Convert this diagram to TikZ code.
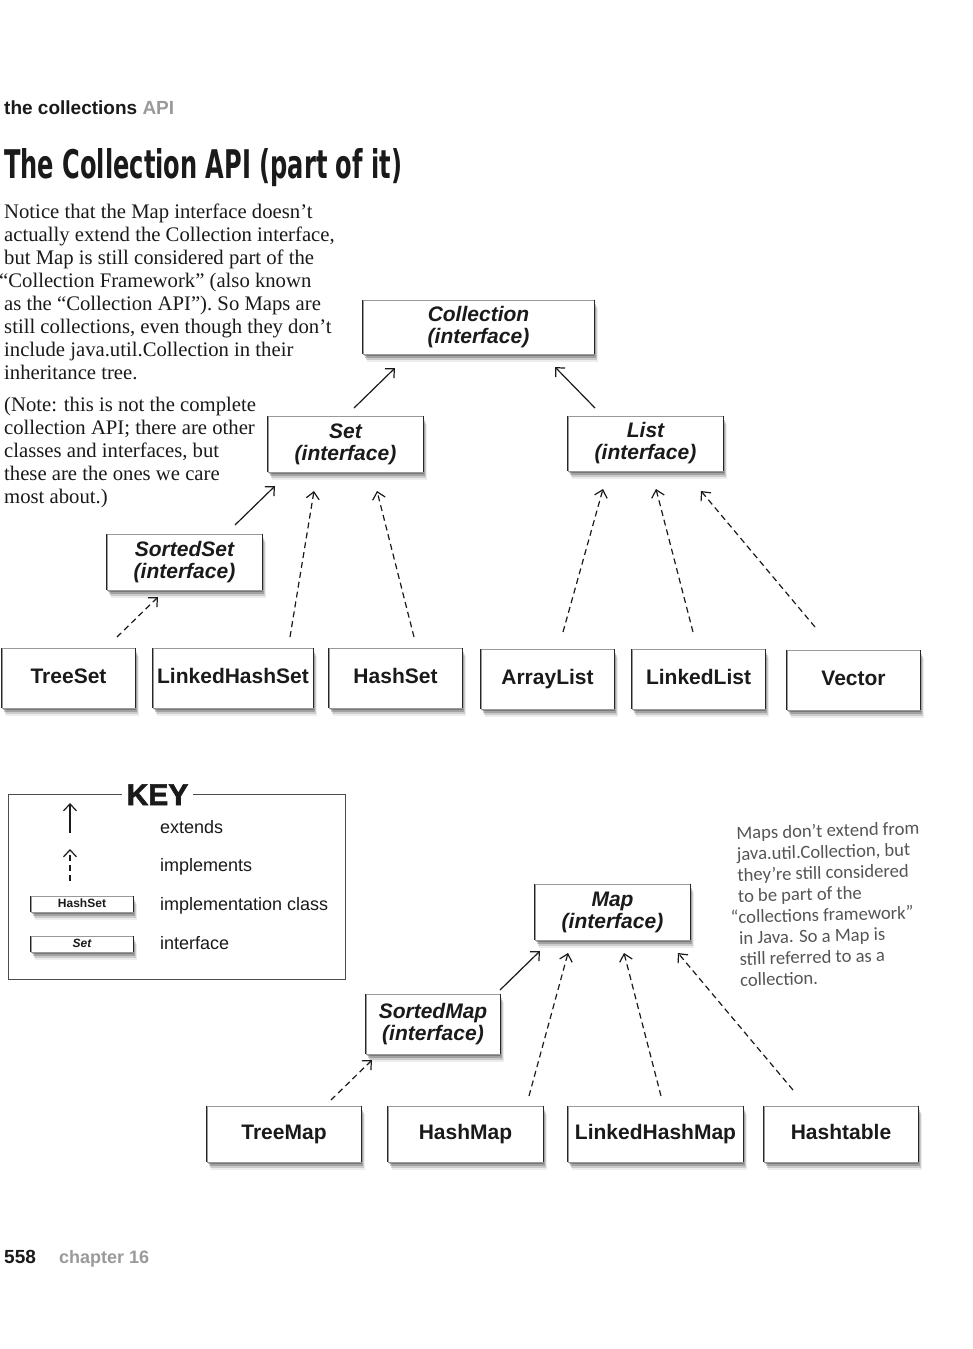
\documentclass[tikz,border=0pt]{standalone}
\usepackage{fontspec}
\setmainfont{Liberation Serif}
\setsansfont{Liberation Sans}
\newfontfamily\handf{Carlito}
\newfontfamily\titlef{DejaVu Sans}
\newfontfamily\keyfont[BoldFeatures={FakeBold=2}]{Liberation Sans}
\usetikzlibrary{arrows.meta,shadows}
\definecolor{pgray}{HTML}{9A9A9A}
\definecolor{ink}{HTML}{1A1A1A}
\definecolor{handgray}{HTML}{555555}
\begin{document}
\begin{tikzpicture}[x=1pt,y=-1pt,
  shd/.style={
    drop shadow={shadow xshift=1pt,shadow yshift=-2pt,opacity=0.25,fill=black},
    drop shadow={shadow xshift=2pt,shadow yshift=-4pt,opacity=0.2,fill=black},
    drop shadow={shadow xshift=3pt,shadow yshift=-6pt,opacity=0.14,fill=black},
    drop shadow={shadow xshift=4pt,shadow yshift=-8pt,opacity=0.07,fill=black}},
  box/.style={draw=black!40, line width=0.5pt, fill=white, inner sep=0pt, align=center,
    text=ink, font=\sffamily\bfseries\fontsize{21}{22}\selectfont, shd},
  cbox/.style={box, text height=15pt, text depth=4.5pt},
  ibox/.style={box, font=\sffamily\bfseries\itshape\fontsize{21}{22}\selectfont},
  sideedge/.style={line width=1.4pt, black!85},
  ext/.style={line width=1.2pt, ink, -{Straight Barb[length=7pt,width=13pt,line width=1.2pt]}},
  imp/.style={ext, dash pattern=on 6pt off 4pt},
  body/.style={anchor=base west, inner sep=0pt, text=ink, font=\rmfamily\fontsize{20.7}{23}\selectfont},
  keylabel/.style={anchor=base west, inner sep=0pt, text=ink, font=\sffamily\fontsize{18}{20}\selectfont}
]
\fill[white] (0,0) rectangle (972,1349);
\useasboundingbox (0,0) rectangle (972,1349);

% header
\node[anchor=base west, inner sep=0pt, font=\sffamily\bfseries\fontsize{19}{19}\selectfont, text=ink] (hdr) at (4,114) {the collections \textcolor{pgray}{API}};
\node[anchor=base west, inner sep=0pt, text=ink] (title) at (4,178)
  {\resizebox{398pt}{30pt}{\titlef\bfseries The Collection API (part of it)}};

% body text
\foreach \t/\xx [count=\i] in {{Notice that the Map interface doesn’t}/4,{actually extend the Collection interface,}/4,{but Map is still considered part of the}/4,{“Collection Framework” (also known}/-1,{as the “Collection API”). So Maps are}/4,{still collections, even though they don’t}/4,{include java.util.Collection in their}/4,{inheritance tree.}/4}
  \node[body] (b\i) at (\xx,{218+(\i-1)*23}) {\t};
\foreach \t [count=\i] in {{(Note: this is not the complete},{collection API; there are other},{classes and interfaces, but},{these are the ones we care},{most about.)}}
  \node[body] (n\i) at (4,{411+(\i-1)*23}) {\t};

% interface boxes
\node[ibox, minimum width=231pt, minimum height=54pt] (coll) at (478.5,327) {Collection\\(interface)};
\node[ibox, minimum width=155pt, minimum height=56pt] (set) at (345.5,444) {Set\\(interface)};
\node[ibox, minimum width=155pt, minimum height=55pt] (list) at (645.5,443.5) {List\\(interface)};
\node[ibox, minimum width=155pt, minimum height=56pt] (sset) at (184.5,562) {SortedSet\\(interface)};
\node[ibox, minimum width=155pt, minimum height=56pt] (map) at (612.5,912) {Map\\(interface)};
\node[ibox, minimum width=134pt, minimum height=60pt] (smap) at (433,1024) {SortedMap\\(interface)};

% class boxes
\node[cbox, minimum width=133pt, minimum height=60pt] (treeset) at (68.5,678) {TreeSet};
\node[cbox, minimum width=160pt, minimum height=60pt] (lhs) at (233,678) {LinkedHashSet};
\node[cbox, minimum width=133pt, minimum height=60pt] (hashset) at (395.5,678) {HashSet};
\node[cbox, minimum width=133pt, minimum height=60pt] (arraylist) at (547.5,679) {ArrayList};
\node[cbox, minimum width=133pt, minimum height=60pt] (linkedlist) at (698.5,679) {LinkedList};
\node[cbox, minimum width=133pt, minimum height=60pt] (vector) at (853.5,680) {Vector};
\node[cbox, minimum width=154pt, minimum height=56pt] (treemap) at (284,1134) {TreeMap};
\node[cbox, minimum width=155pt, minimum height=56pt] (hashmap) at (465.5,1134) {HashMap};
\node[cbox, minimum width=175pt, minimum height=56pt] (lhm) at (655.5,1134) {LinkedHashMap};
\node[cbox, minimum width=154pt, minimum height=56pt] (hashtable) at (841,1134) {Hashtable};

% key
\draw[black!70, line width=0.7pt] (8,794) rectangle (345,979);
\node[fill=white, inner xsep=5pt, inner ysep=2pt, anchor=base, text=ink] (key) at (157.5,805)
  {\keyfont\bfseries\fontsize{30}{30}\selectfont KEY};
\coordinate (ke1) at (70,833); \coordinate (ke2) at (70,803);
\coordinate (ki1) at (70,881); \coordinate (ki2) at (70,849);
\draw[ext] (ke1) -- (ke2);
\draw[imp] (ki1) -- (ki2);
\node[box, minimum width=102pt, minimum height=16pt, text height=9pt, text depth=2.5pt, font=\sffamily\bfseries\fontsize{12}{13}\selectfont] (khs) at (82,904) {HashSet};
\node[box, minimum width=102pt, minimum height=16pt, text height=9pt, text depth=2.5pt, font=\sffamily\bfseries\itshape\fontsize{12}{13}\selectfont] (kset) at (82,944) {Set};
\node[keylabel] (l1) at (160,833) {extends};
\node[keylabel] (l2) at (160,871) {implements};
\node[keylabel] (l3) at (160,910) {implementation class};
\node[keylabel] (l4) at (160,949) {interface};

% side edges of boxes
\foreach \n in {coll,set,list,sset,map,smap,treeset,lhs,hashset,arraylist,linkedlist,vector,treemap,hashmap,lhm,hashtable,khs,kset}
  \draw[sideedge] (\n.north west) -- (\n.south west) (\n.north east) -- (\n.south east);

% connector end points
\coordinate (a1) at (354,408); \coordinate (a2) at (395,368);
\coordinate (b1) at (595,408); \coordinate (b2) at (555,367);
\coordinate (c1) at (235,525); \coordinate (c2) at (275,486);
\coordinate (d1) at (117,637); \coordinate (d2) at (158,597);
\coordinate (e1) at (290,637); \coordinate (e2) at (314,491);
\coordinate (f1) at (414,637); \coordinate (f2) at (377,491);
\coordinate (g1) at (563,632); \coordinate (g2) at (603,489);
\coordinate (h1) at (693,632); \coordinate (h2) at (656,489);
\coordinate (i1) at (815,627); \coordinate (i2) at (701,491);
\coordinate (j1) at (500,990); \coordinate (j2) at (540,951);
\coordinate (k1) at (331,1100); \coordinate (k2) at (372,1060);
\coordinate (m1) at (529,1096); \coordinate (m2) at (568,953);
\coordinate (o1) at (661,1096); \coordinate (o2) at (624,953);
\coordinate (p1) at (793,1090); \coordinate (p2) at (678,953);

\draw[ext] (a1) -- (a2);
\draw[ext] (b1) -- (b2);
\draw[ext] (c1) -- (c2);
\draw[imp] (d1) -- (d2);
\draw[imp] (e1) -- (e2);
\draw[imp] (f1) -- (f2);
\draw[imp] (g1) -- (g2);
\draw[imp] (h1) -- (h2);
\draw[imp] (i1) -- (i2);
\draw[ext] (j1) -- (j2);
\draw[imp] (k1) -- (k2);
\draw[imp] (m1) -- (m2);
\draw[imp] (o1) -- (o2);
\draw[imp] (p1) -- (p2);

% handwritten note
\node[anchor=north west, align=left, rotate=1.5, inner sep=0pt, text=handgray,
  font=\handf\fontsize{18.6}{21}\selectfont] (note) at (736,826)
  {Maps don’t extend from\\java.util.Collection, but\\they’re still considered\\to be part of the\\\llap{“}collections framework”\\in Java. So a Map is\\still referred to as a\\collection.};

% footer
\node[anchor=base west, inner sep=0pt, text=ink, font=\sffamily\bfseries\fontsize{19}{19}\selectfont] (pg) at (4,1263) {558};
\node[anchor=base west, inner sep=0pt, text=pgray, font=\sffamily\bfseries\fontsize{18}{18}\selectfont] (ch) at (59,1263) {chapter 16};
\end{tikzpicture}
\end{document}
